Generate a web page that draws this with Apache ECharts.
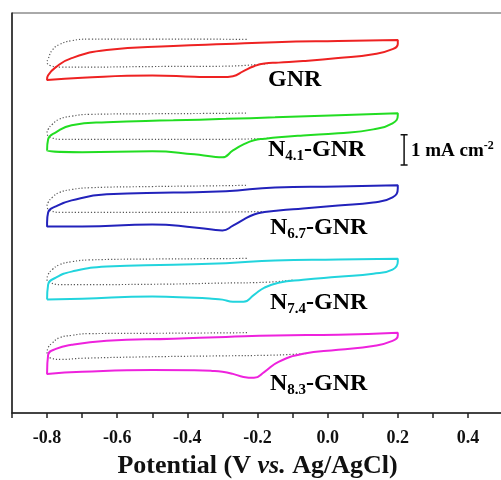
<!DOCTYPE html>
<html>
<head>
<meta charset="utf-8">
<script src="https://cdn.jsdelivr.net/npm/echarts@6/dist/echarts.min.js"></script>
<style>html,body{margin:0;background:#fff}#chart{width:501px;height:480px}</style>
</head>
<body>
<div id="chart"></div>
<script>
// CV loops, current in mA cm-2, each sample shifted up by its offset
const samples = ['GNR', 'N4.1-GNR', 'N6.7-GNR', 'N7.4-GNR', 'N8.3-GNR'];
const colors = ['#ee2222', '#22dd22', '#2222bb', '#22d4dd', '#ee22dd'];
const offsets = [11.5, 9.1, 6.7, 4.3, 1.9];
const tickLabels = ['-0.8', '-0.6', '-0.4', '-0.2', '0.0', '0.2', '0.4'];

// potentials (V vs Ag/AgCl) shared by all loops
const vUp = [-0.8, -0.797, -0.775, -0.73, -0.63, -0.44, -0.29, -0.15, 0.03, 0.2];
const vLow = [0.2, 0.185, 0.13, 0.03, -0.07, -0.14, -0.18, -0.21, -0.24, -0.27, -0.30, -0.33, -0.38, -0.5, -0.7, -0.8];
const vDot = [-0.06, -0.1, -0.17, -0.3, -0.5, -0.7, -0.76, -0.79, -0.8, -0.797, -0.785, -0.765, -0.73, -0.68, -0.5, -0.35, -0.23];

// O2-saturated (solid), forward and backward scan
const gnrUp = [-0.4, -0.27, 0, 0.3, 0.57, 0.7, 0.77, 0.83, 0.87, 0.9];
const gnrLow = [0.77, 0.6, 0.43, 0.3, 0.2, 0.15, 0.12, 0.03, -0.13, -0.3, -0.33, -0.33, -0.32, -0.28, -0.35, -0.43];
const n41Up = [-0.37, 0, 0.23, 0.47, 0.57, 0.63, 0.68, 0.73, 0.8, 0.87];
const n41Low = [0.8, 0.53, 0.33, 0.2, 0.13, 0.07, 0.02, -0.03, -0.17, -0.37, -0.6, -0.57, -0.5, -0.4, -0.43, -0.38];
const n67Up = [-0.37, -0.03, 0.17, 0.37, 0.57, 0.63, 0.67, 0.8, 0.83, 0.87];
const n67Low = [0.77, 0.47, 0.3, 0.2, 0.1, 0.03, -0.02, -0.1, -0.27, -0.47, -0.63, -0.6, -0.53, -0.43, -0.5, -0.5];
const n74Up = [-0.53, -0.03, 0.2, 0.4, 0.57, 0.63, 0.68, 0.77, 0.8, 0.83];
const n74Low = [0.73, 0.47, 0.33, 0.23, 0.13, 0.03, -0.13, -0.37, -0.6, -0.6, -0.53, -0.5, -0.47, -0.43, -0.5, -0.53];
const n83Up = [-0.57, 0.03, 0.23, 0.37, 0.5, 0.57, 0.63, 0.68, 0.7, 0.77];
const n83Low = [0.67, 0.5, 0.33, 0.2, 0.07, -0.2, -0.53, -0.73, -0.7, -0.6, -0.53, -0.5, -0.48, -0.47, -0.53, -0.6];

// N2-saturated (dotted)
const gnrDot = [null, null, 0.12, 0.03, 0.02, 0, 0, 0.05, 0.17, 0.27, 0.57, 0.75, 0.88, 0.93, 0.93, 0.93, 0.92];
const n41Dot = [null, null, 0.03, 0, 0, 0, 0, 0.07, 0.2, 0.33, 0.5, 0.67, 0.77, 0.83, 0.85, 0.86, 0.87];
const n67Dot = [null, null, 0, -0.02, -0.03, -0.03, -0.03, 0.03, 0.17, 0.3, 0.47, 0.63, 0.73, 0.79, 0.83, 0.85, 0.87];
const n74Dot = [null, 0.12, 0.05, 0.02, -0.02, -0.03, -0.03, 0.03, 0.13, 0.3, 0.47, 0.63, 0.73, 0.79, 0.82, 0.83, 0.84];
const n83Dot = [0.08, 0.05, 0.02, 0, -0.03, -0.08, -0.12, -0.07, 0.07, 0.27, 0.43, 0.6, 0.68, 0.74, 0.75, 0.76, 0.77];

const ups = [gnrUp, n41Up, n67Up, n74Up, n83Up];
const lows = [gnrLow, n41Low, n67Low, n74Low, n83Low];
const dots = [gnrDot, n41Dot, n67Dot, n74Dot, n83Dot];

const FONT = '"Liberation Serif", "Times New Roman", serif';

function loop(up, low, off) {
  const pts = vUp.map((v, i) => [v, up[i] + off])
    .concat(vLow.map((v, i) => [v, low[i] + off]));
  pts.push(pts[0]);
  return pts;
}

const series = [];
samples.forEach((name, k) => {
  series.push({
    type: 'line', name: name + ' N2', silent: true,
    data: vDot.map((v, i) => dots[k][i] == null ? null : [v, dots[k][i] + offsets[k]]).filter(Boolean),
    smooth: 0.5, showSymbol: false, animation: false,
    lineStyle: { color: '#555', width: 1.2, type: [1.2, 2] }
  });
});
samples.forEach((name, k) => {
  series.push({
    type: 'line', name: name, silent: true,
    data: loop(ups[k], lows[k], offsets[k]),
    smooth: 0.5, showSymbol: false, animation: false,
    lineStyle: { color: colors[k], width: 2 }
  });
});
// scale bar, 1 mA cm-2
const barX = 0.218, barLo = 8.25, barHi = 9.25, cap = 0.01;
series.push({
  type: 'line', silent: true, showSymbol: false, animation: false,
  data: [[barX - cap, barHi], [barX + cap, barHi], [barX, barHi], [barX, barLo], [barX - cap, barLo], [barX + cap, barLo]],
  lineStyle: { color: '#111', width: 1.5 }
});

const labelPos = [[268, 80], [268, 150], [270, 228], [270, 303], [270, 384]];
const big = { fontFamily: FONT, fontWeight: 'bold', fontSize: 24, lineHeight: 28, color: '#111' };
const sub = { fontFamily: FONT, fontWeight: 'bold', fontSize: 15, lineHeight: 14, verticalAlign: 'bottom', color: '#111' };

const graphic = samples.map((name, k) => {
  const m = name.match(/^N([\d.]+)-(.*)$/);
  const text = m ? '{m|N}{s|' + m[1] + '}{m|-' + m[2] + '}' : '{m|' + name + '}';
  return {
    type: 'text', x: labelPos[k][0], y: labelPos[k][1], silent: true,
    style: { text: text, rich: { m: big, s: sub }, align: 'left', verticalAlign: 'middle' }
  };
});
graphic.push({
  type: 'text', x: 411, y: 151, silent: true,
  style: {
    text: '{t|1 mA cm}{p|-2}', align: 'left', verticalAlign: 'middle',
    rich: {
      t: { fontFamily: FONT, fontWeight: 'bold', fontSize: 19, lineHeight: 22, color: '#111' },
      p: { fontFamily: FONT, fontWeight: 'bold', fontSize: 12, lineHeight: 12, verticalAlign: 'top', color: '#111' }
    }
  }
});

const chart = echarts.init(document.getElementById('chart'), null, { renderer: 'canvas' });
chart.setOption({
  animation: false,
  grid: {
    left: 12, top: 13, width: 491, bottom: 67, outerBoundsMode: 'none',
    show: true, borderColor: '#555', borderWidth: 1
  },
  xAxis: {
    type: 'value', min: -0.9, max: 0.5, interval: 0.1,
    axisLine: { onZero: false, lineStyle: { color: '#222', width: 1.5 } },
    axisTick: { show: true, inside: false, length: 5, lineStyle: { color: '#222', width: 1.5 } },
    splitLine: { show: false },
    axisLabel: {
      margin: 16, color: '#111', fontFamily: FONT, fontWeight: 'bold', fontSize: 18,
      formatter: v => { const s = (Math.round(v * 10) / 10).toFixed(1); return tickLabels.includes(s) ? s : ''; }
    },
    name: '{b|Potential (V }{i|vs.}{b| Ag/AgCl)}',
    nameLocation: 'middle', nameGap: 40,
    nameTextStyle: {
      rich: {
        b: { fontFamily: FONT, fontWeight: 'bold', fontSize: 26, color: '#111' },
        i: { fontFamily: FONT, fontWeight: 'bold', fontStyle: 'italic', fontSize: 26, color: '#111' }
      }
    }
  },
  yAxis: {
    type: 'value', min: 0, max: 13.3,
    axisLine: { show: true, onZero: false, lineStyle: { color: '#222', width: 1.5 } },
    axisTick: { show: false }, axisLabel: { show: false }, splitLine: { show: false }
  },
  series: series,
  graphic: graphic
});
</script>
</body>
</html>
